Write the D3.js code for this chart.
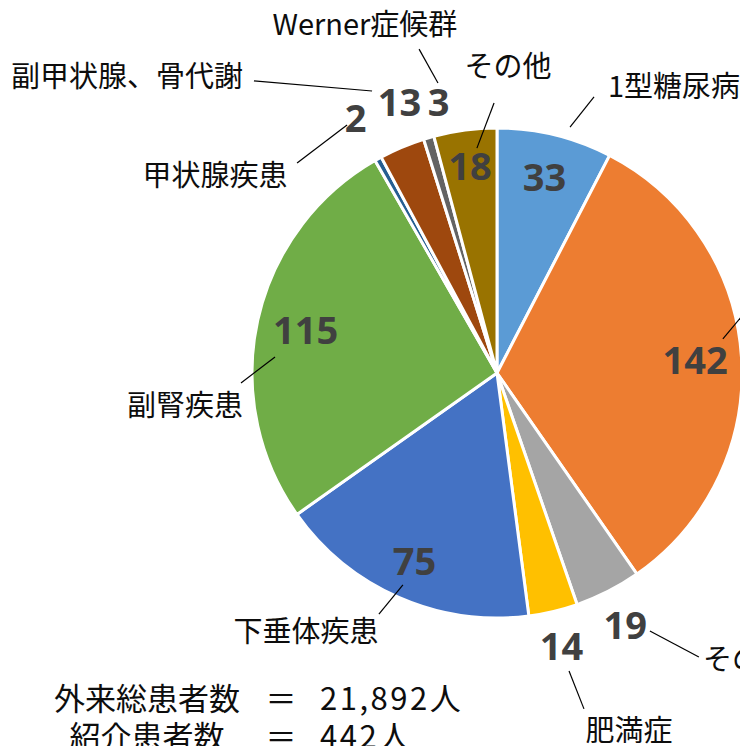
<!DOCTYPE html>
<html>
<head>
<meta charset="utf-8">
<script src="https://cdn.jsdelivr.net/npm/d3@7"></script>
<style>
  body { margin: 0; background: #fff; }
  svg { display: block; overflow: hidden; }
  .name { font-family: "Noto Sans CJK JP", sans-serif; font-size: 29px; fill: #0d0d0d; }
  .value { font-family: "Open Sans", sans-serif; font-weight: 700; font-size: 38px; fill: #404040; }
  .total { font-family: "Noto Sans CJK JP", sans-serif; font-size: 31px; fill: #0d0d0d; }
</style>
</head>
<body>
<script>
var width = 740,
    height = 746;

// data
var categories = ["1型糖尿病", "2型糖尿病", "その他", "肥満症", "下垂体疾患",
                  "副腎疾患", "甲状腺疾患", "副甲状腺、骨代謝", "Werner症候群", "その他"];
var values = [33, 142, 19, 14, 75, 115, 2, 13, 3, 18];
var colors = ["#5b9bd5", "#ed7d31", "#a5a5a5", "#ffc000", "#4472c4",
              "#70ad47", "#255e91", "#9e480e", "#636363", "#997300"];
var totalLabels = ["外来総患者数", "紹介患者数"];
var totalValues = ["21,892人", "442人"];

// label layout, in units of the radius
var valueRadius = [0.82, 0.81, 1.155, 1.145, 0.84, 0.80, 1.19, 1.175, 1.13, 0.85];
var valueShift = [0, 0, 0, 0, 0, 0, 0, 3, 4, 0]; // degrees
var namePos = [
  [0.453, -1.171, "start"], [1.02, -0.278, "start"], [0.841, 1.171, "start"],
  [0.539, 1.461, "middle"], [-0.780, 1.057, "middle"], [-1.273, 0.131, "middle"],
  [-1.151, -0.804, "middle"], [-1.510, -1.208, "middle"], [-0.539, -1.424, "middle"],
  [0.045, -1.249, "middle"]
];
var leaders = [
  [0.298, -1.004, 0.396, -1.127], [0.922, -0.139, 1.0, -0.233],
  [0.624, 1.053, 0.824, 1.159], [0.294, 1.216, 0.355, 1.371],
  [-0.384, 0.865, -0.482, 0.984], [-0.906, -0.065, -1.045, 0.041],
  [-0.612, -1.012, -0.816, -0.857], [-0.992, -1.192, -0.510, -1.151],
  [-0.318, -1.322, -0.241, -1.184], [-0.012, -1.102, -0.082, -0.918]
];

var cx = 497, cy = 373, radius = 245;

var svg = d3.select("body").append("svg")
    .attr("width", width)
    .attr("height", height);

var g = svg.append("g")
    .attr("transform", "translate(" + cx + "," + cy + ")");

var pie = d3.pie().sort(null).value(function(d) { return d; });
var arcs = pie(values);

var arc = d3.arc().innerRadius(0).outerRadius(radius);

g.selectAll(".slice")
  .data(arcs)
  .enter().append("path")
    .attr("class", "slice")
    .attr("d", arc)
    .attr("fill", function(d, i) { return colors[i]; })
    .attr("stroke", "#fff")
    .attr("stroke-width", 3)
    .attr("stroke-linejoin", "round");

g.selectAll(".leader")
  .data(leaders)
  .enter().append("line")
    .attr("class", "leader")
    .attr("x1", function(d) { return d[0] * radius; })
    .attr("y1", function(d) { return d[1] * radius; })
    .attr("x2", function(d) { return d[2] * radius; })
    .attr("y2", function(d) { return d[3] * radius; })
    .attr("stroke", "#000")
    .attr("stroke-width", 1.2);

g.selectAll(".value")
  .data(arcs)
  .enter().append("text")
    .attr("class", "value")
    .attr("text-anchor", "middle")
    .attr("dy", "0.36em")
    .attr("transform", function(d, i) {
      var a = (d.startAngle + d.endAngle) / 2 + valueShift[i] * Math.PI / 180;
      var r = valueRadius[i] * radius;
      return "translate(" + (r * Math.sin(a)) + "," + (-r * Math.cos(a)) + ")";
    })
    .text(function(d) { return d.data; });

g.selectAll(".name")
  .data(categories)
  .enter().append("text")
    .attr("class", "name")
    .attr("x", function(d, i) { return namePos[i][0] * radius; })
    .attr("y", function(d, i) { return namePos[i][1] * radius; })
    .attr("dy", "0.36em")
    .attr("text-anchor", function(d, i) { return namePos[i][2]; })
    .text(function(d) { return d; });

var totals = svg.append("g").attr("class", "totals");
totalLabels.forEach(function(t, i) {
  var y = 710 + i * 38;
  totals.append("text").attr("class", "total")
    .attr("x", 147).attr("y", y).attr("text-anchor", "middle").text(t);
  totals.append("text").attr("class", "total")
    .attr("x", 281).attr("y", y).attr("text-anchor", "middle").text("＝");
  totals.append("text").attr("class", "total")
    .attr("x", 320).attr("y", y).attr("letter-spacing", "2.5px").text(totalValues[i]);
});
</script>
</body>
</html>
